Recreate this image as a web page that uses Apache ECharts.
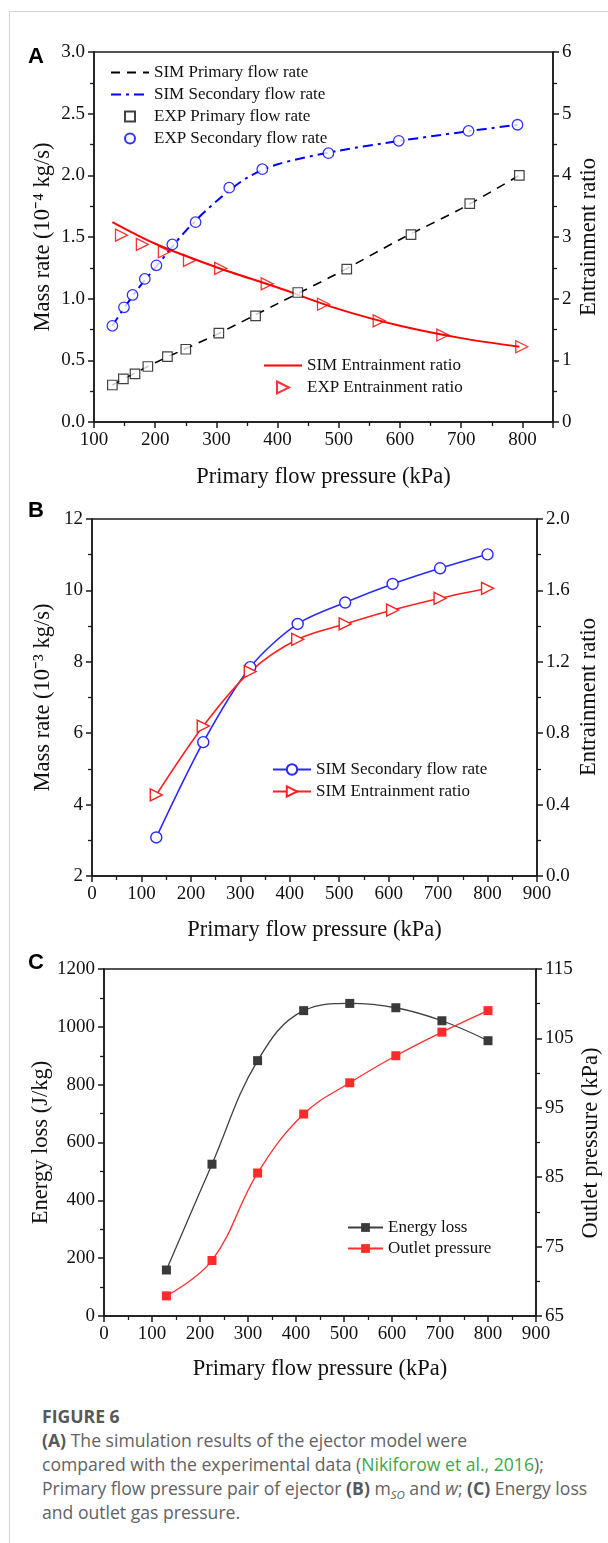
<!DOCTYPE html>
<html>
<head>
<meta charset="utf-8">
<title>Figure 6</title>
<script src="https://cdn.jsdelivr.net/npm/echarts@6.0.0/dist/echarts.min.js"></script>
<style>
  body { margin: 0; background: #fff; }
  #page { position: relative; width: 608px; height: 1543px; overflow: hidden; background: #fff; }
  #frame { position: absolute; left: 9px; top: 11px; width: 640px; height: 1600px;
           border-top: 1px solid #d4d4d4; border-left: 1px solid #d4d4d4; }
  .panel { position: absolute; left: 0; width: 608px; }
  #chartA { top: 0; height: 500px; }
  #chartB { top: 490px; height: 460px; }
  #chartC { top: 950px; height: 440px; }
  #caption { position: absolute; left: 42px; top: 1404px; white-space: nowrap;
             font-family: "Open Sans", "Noto Sans", sans-serif; font-size: 17.6px; line-height: 24px; color: #626262; }
  #caption b { color: #585858; }
  #caption .ref { color: #3fa64a; }
  #caption .sub { font-size: 11.5px; font-style: italic; position: relative; top: 4px; line-height: 0; }
</style>
</head>
<body>
<div id="page">
  <div id="frame"></div>
  <div id="chartA" class="panel"></div>
  <div id="chartB" class="panel"></div>
  <div id="chartC" class="panel"></div>
  <div id="caption">
    <b>FIGURE 6</b><br>
    <b>(A)</b> The simulation results of the ejector model were<br>
    compared with the experimental data (<span class="ref">Nikiforow et al., 2016</span>);<br>
    Primary flow pressure pair of ejector <b>(B)</b> m<span class="sub">SO</span> and <i>w</i>; <b>(C)</b> Energy loss<br>
    and outlet gas pressure.
  </div>
</div>
<script>
var SERIF = 'Liberation Serif';
var SQUARE = 'path://M0,0L10,0L10,10L0,10Z';
var TRI_RIGHT = 'path://M0,0L10,5L0,10Z';

// (A) simulation vs experiment
var expPrimP   = [130, 148, 167, 188, 220, 250, 304, 364, 433, 513, 618, 714, 795];
var expPrimV   = [0.30, 0.35, 0.39, 0.45, 0.53, 0.59, 0.72, 0.86, 1.05, 1.24, 1.52, 1.77, 2.00];
var expSecP    = [130, 149, 163, 183, 202, 228, 266, 321, 375, 483, 598, 712, 792];
var expSecV    = [0.78, 0.93, 1.03, 1.16, 1.27, 1.44, 1.62, 1.90, 2.05, 2.18, 2.28, 2.36, 2.41];
var expRatioP  = [145, 179, 215, 256, 307, 383, 475, 566, 670, 799];
var expRatioV  = [3.03, 2.88, 2.76, 2.62, 2.49, 2.24, 1.91, 1.64, 1.41, 1.22];
var simP       = [130, 200, 300, 400, 500, 600, 700, 795];
var simPrimV   = [0.30, 0.48, 0.71, 0.96, 1.21, 1.48, 1.73, 2.00];
var simRatioV  = [3.24, 2.89, 2.51, 2.18, 1.83, 1.56, 1.36, 1.22];
var simSecP    = [130, 150, 175, 200, 250, 300, 350, 400, 500, 600, 700, 792];
var simSecV    = [0.78, 0.93, 1.10, 1.25, 1.55, 1.79, 1.98, 2.09, 2.20, 2.28, 2.35, 2.41];

// (B) m_SO and w
var pressB     = [130, 225, 320, 416, 512, 608, 704, 800];
var secRateB   = [3.08, 5.75, 7.85, 9.06, 9.66, 10.18, 10.62, 11.01];
var ratioB     = [0.454, 0.840, 1.145, 1.326, 1.412, 1.490, 1.556, 1.612];

// (C) energy loss and outlet pressure
var pressC     = [130, 225, 320, 416, 512, 608, 704, 800];
var energyLoss = [159, 525, 883, 1056, 1081, 1066, 1021, 952];
var outletP    = [67.9, 73.0, 85.6, 94.1, 98.6, 102.5, 105.9, 109.0];

function pairs(xs, ys) {
	var out = [];
	for (var i = 0; i < xs.length; i++) {
		out.push([xs[i], ys[i]]);
	}
	return out;
}

function fixed1(v) { return v.toFixed(1); }
function plain(v) { return String(v); }

function axis(min, max, interval, extra) {
	var a = {
		type: 'value',
		min: min,
		max: max,
		interval: interval,
		nameLocation: 'middle',
		nameMoveOverlap: false,
		nameTextStyle: { color: '#111', fontFamily: SERIF, fontSize: 22.5 },
		axisLine: { show: true, onZero: false, lineStyle: { color: '#1a1a1a', width: 1.5 } },
		axisTick: { show: true, length: 6, lineStyle: { color: '#1a1a1a', width: 1.5 } },
		minorTick: { show: true, splitNumber: 2, length: 4, lineStyle: { color: '#1a1a1a', width: 1.3 } },
		splitLine: { show: false },
		minorSplitLine: { show: false },
		axisLabel: { color: '#111', fontFamily: SERIF, fontSize: 19, margin: 9, formatter: plain }
	};
	for (var k in extra) {
		if (k === 'axisLabel') {
			for (var j in extra[k]) a.axisLabel[j] = extra[k][j];
		} else {
			a[k] = extra[k];
		}
	}
	return a;
}

function box(left, top, width, height) {
	return {
		left: left, top: top, width: width, height: height,
		outerBoundsMode: 'none', containLabel: false,
		show: true, borderColor: '#1a1a1a', borderWidth: 1.5
	};
}

function legendBox(left, top, itemWidth, itemHeight, gap, names) {
	return {
		orient: 'vertical',
		left: left,
		top: top,
		padding: 0,
		itemWidth: itemWidth,
		itemHeight: itemHeight,
		itemGap: gap,
		selectedMode: false,
		textStyle: { color: '#111', fontFamily: SERIF, fontSize: 17, lineHeight: 16 },
		data: names
	};
}

// line-only legend entry, no marker in the middle
function lineOnly(name) {
	return { name: name, itemStyle: { opacity: 0 } };
}

function letter(ch, y) {
	return {
		type: 'text', x: 28, y: y,
		style: { text: ch, font: 'bold 22px "Liberation Sans", Arial, sans-serif', fill: '#000', verticalAlign: 'middle' }
	};
}

function sideTitle(text, x, y) {
	return {
		type: 'text', x: x, y: y, rotation: Math.PI / 2,
		style: { text: text, font: '22.5px "Liberation Serif"', fill: '#111', align: 'center', verticalAlign: 'middle' }
	};
}

function drawA() {
	var myChart = echarts.init(document.getElementById('chartA'));
	var option = {
		animation: false,
		graphic: [letter('A', 57), sideTitle('Entrainment ratio', 589, 237)],
		grid: box(94, 52, 459, 370),
		legend: [
			legendBox(110, 64, 38, 10, 5, [lineOnly('SIM Primary flow rate'), lineOnly('SIM Secondary flow rate'), 'EXP Primary flow rate', 'EXP Secondary flow rate']),
			legendBox(263, 357, 38, 12, 5, [lineOnly('SIM Entrainment ratio'), 'EXP Entrainment ratio'])
		],
		xAxis: axis(100, 850, 100, { name: 'Primary flow pressure (kPa)', nameGap: 44, axisLabel: { showMaxLabel: false } }),
		yAxis: [
			axis(0, 3, 0.5, { name: 'Mass rate (10⁻⁴ kg/s)', nameGap: 39, axisLabel: { formatter: fixed1 } }),
			axis(0, 6, 1, { position: 'right' })
		],
		series: [
			{
				name: 'SIM Primary flow rate', type: 'line', smooth: 0.3, symbol: 'none', z: 2,
				lineStyle: { color: '#000', width: 1.6, type: [9, 7] }, itemStyle: { color: '#000' },
				data: pairs(simP, simPrimV)
			},
			{
				name: 'SIM Secondary flow rate', type: 'line', smooth: 0.3, symbol: 'none', z: 2,
				lineStyle: { color: '#0000ff', width: 2, type: [10, 5, 3, 5] }, itemStyle: { color: '#0000ff' },
				data: pairs(simSecP, simSecV)
			},
			{
				name: 'EXP Primary flow rate', type: 'scatter', symbol: SQUARE, symbolSize: 9.5, z: 3,
				itemStyle: { color: '#fff', borderColor: '#111', borderWidth: 1.2 },
				data: pairs(expPrimP, expPrimV)
			},
			{
				name: 'EXP Secondary flow rate', type: 'scatter', symbol: 'circle', symbolSize: 10.5, z: 3,
				itemStyle: { color: '#fff', borderColor: '#0000ff', borderWidth: 1.3 },
				data: pairs(expSecP, expSecV)
			},
			{
				name: 'SIM Entrainment ratio', type: 'line', smooth: 0.3, symbol: 'none', yAxisIndex: 1, z: 2,
				lineStyle: { color: '#ff0000', width: 2 }, itemStyle: { color: '#ff0000' },
				data: pairs(simP, simRatioV)
			},
			{
				name: 'EXP Entrainment ratio', type: 'scatter', symbol: TRI_RIGHT, symbolSize: 12,
				yAxisIndex: 1, z: 3,
				itemStyle: { color: 'rgba(255,255,255,0)', borderColor: '#ff0000', borderWidth: 1.3 },
				data: pairs(expRatioP, expRatioV)
			}
		]
	};
	myChart.setOption(option);
}

function drawB() {
	var myChart = echarts.init(document.getElementById('chartB'));
	var option = {
		animation: false,
		graphic: [letter('B', 21), sideTitle('Entrainment ratio', 589, 207)],
		grid: box(92, 29, 445, 357),
		legend: legendBox(272, 271, 38, 13, 5, ['SIM Secondary flow rate', 'SIM Entrainment ratio']),
		xAxis: axis(0, 900, 100, { name: 'Primary flow pressure (kPa)', nameGap: 43 }),
		yAxis: [
			axis(2, 12, 2, { name: 'Mass rate (10⁻³ kg/s)', nameGap: 37 }),
			axis(0, 2, 0.4, { position: 'right', axisLabel: { formatter: fixed1 } })
		],
		series: [
			{
				name: 'SIM Secondary flow rate', type: 'line', smooth: 0.3, symbol: 'circle', symbolSize: 11,
				lineStyle: { color: '#2a2aff', width: 1.6 },
				itemStyle: { color: '#fff', borderColor: '#2a2aff', borderWidth: 1.4 },
				data: pairs(pressB, secRateB)
			},
			{
				name: 'SIM Entrainment ratio', type: 'line', smooth: 0.3, symbol: TRI_RIGHT, symbolSize: 12,
				yAxisIndex: 1,
				lineStyle: { color: '#ff2020', width: 1.6 },
				itemStyle: { color: '#fff', borderColor: '#ff2020', borderWidth: 1.4 },
				data: pairs(pressB, ratioB)
			}
		]
	};
	myChart.setOption(option);
}

function drawC() {
	var myChart = echarts.init(document.getElementById('chartC'));
	var option = {
		animation: false,
		graphic: [letter('C', 13), sideTitle('Outlet pressure (kPa)', 591, 193)],
		grid: box(104, 19, 432, 347),
		legend: legendBox(347, 269, 35, 11, 4, ['Energy loss', 'Outlet pressure']),
		xAxis: axis(0, 900, 100, { name: 'Primary flow pressure (kPa)', nameGap: 42 }),
		yAxis: [
			axis(0, 1200, 200, { name: 'Energy loss (J/kg)', nameGap: 51 }),
			axis(65, 115, 10, { position: 'right' })
		],
		series: [
			{
				name: 'Energy loss', type: 'line', smooth: 0.4, symbol: SQUARE, symbolSize: 9,
				lineStyle: { color: '#404040', width: 1.3 }, itemStyle: { color: '#3a3a3a' },
				data: pairs(pressC, energyLoss)
			},
			{
				name: 'Outlet pressure', type: 'line', smooth: 0.4, symbol: SQUARE, symbolSize: 9, yAxisIndex: 1,
				lineStyle: { color: '#ff3030', width: 1.3 }, itemStyle: { color: '#ff2a2a' },
				data: pairs(pressC, outletP)
			}
		]
	};
	myChart.setOption(option);
}

drawA();
drawB();
drawC();
</script>
</body>
</html>
